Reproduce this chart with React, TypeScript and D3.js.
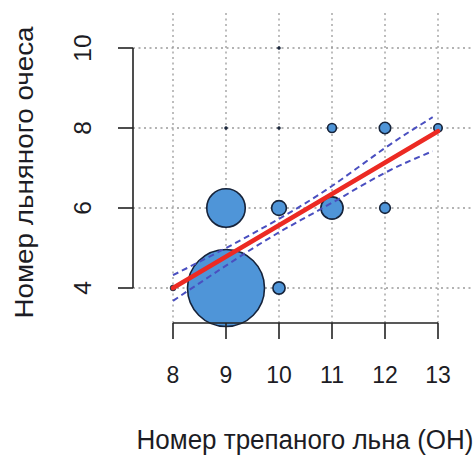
import React from "react";
import * as d3 from "d3";

const xTicks = [8, 9, 10, 11, 12, 13];
const yTicks = [4, 6, 8, 10];

// bubbles: x (scutched flax number), y (tow number), weight (count)
const bubbleX = [9, 9, 11, 10, 10, 12, 12, 11, 13, 8, 9, 10, 10];
const bubbleY = [4, 6, 6, 6, 4, 6, 8, 8, 8, 4, 8, 8, 10];
const bubbleW = [676, 169, 56, 25, 17, 13, 15, 9, 8, 4, 1, 1, 1];

// regression line and confidence band
const fitX = [8, 13];
const fitY = [4.0, 7.92];
const bandX = [8, 9, 10, 11, 12, 12.9];
const bandUpper = [4.32, 5.0, 5.73, 6.55, 7.5, 8.27];
const bandLower = [3.68, 4.56, 5.39, 6.13, 6.88, 7.42];

const W = 474;
const H = 456;

export default function App() {
  const x = d3.scaleLinear().domain([8, 13]).range([173, 438]);
  const y = d3.scaleLinear().domain([4, 10]).range([288, 48]);
  const r = d3.scaleSqrt().domain([0, 676]).range([0, 38.5]);

  const plotLeft = 133;
  const plotRight = 472;
  const plotTop = 13;
  const plotBottom = 323;

  const line = d3
    .line<[number, number]>()
    .x((d) => x(d[0]))
    .y((d) => y(d[1]));
  const bandLine = d3
    .line<[number, number]>()
    .x((d) => x(d[0]))
    .y((d) => y(d[1]))
    .curve(d3.curveNatural);

  const bubbles = bubbleX
    .map((bx, i) => ({ x: bx, y: bubbleY[i], w: bubbleW[i] }))
    .sort((a, b) => b.w - a.w);

  const font = "'Liberation Sans', Arial, sans-serif";
  const textColor = "#1c1c24";

  return (
    <svg
      width={W}
      height={H}
      style={{ position: "absolute", left: 0, top: 0, background: "#fff" }}
    >
      {/* grid */}
      <g stroke="#9a9a9a" strokeWidth={1.3} strokeDasharray="2 3.5">
        {xTicks.map((t) => (
          <line key={"gx" + t} x1={x(t)} x2={x(t)} y1={plotTop} y2={plotBottom} />
        ))}
        {yTicks.map((t) => (
          <line key={"gy" + t} x1={plotLeft} x2={plotRight} y1={y(t)} y2={y(t)} />
        ))}
      </g>

      {/* bubbles */}
      {bubbles.map((b, i) => {
        const rr = r(b.w);
        const tiny = rr < 3.5;
        return (
          <circle
            key={i}
            cx={x(b.x)}
            cy={y(b.y)}
            r={tiny ? Math.max(rr, 1.5) : rr}
            fill={tiny ? "#1d2a3e" : "#4f95d8"}
            stroke="#16233a"
            strokeWidth={tiny ? 0.5 : 1.6}
          />
        );
      })}

      {/* confidence band */}
      <g fill="none" stroke="#4a4fc0" strokeWidth={2} strokeDasharray="6 4">
        <path d={bandLine(bandX.map((bx, i) => [bx, bandUpper[i]]) as any) || ""} />
        <path d={bandLine(bandX.map((bx, i) => [bx, bandLower[i]]) as any) || ""} />
      </g>

      {/* regression line */}
      <path
        d={line(fitX.map((fx, i) => [fx, fitY[i]]) as any) || ""}
        stroke="#ec2a23"
        strokeWidth={4.5}
        fill="none"
        strokeLinecap="round"
      />

      {/* axes */}
      <g stroke="#222" strokeWidth={1.6} fill="none">
        <line x1={x(8)} x2={x(13)} y1={plotBottom} y2={plotBottom} />
        {xTicks.map((t) => (
          <line key={"xt" + t} x1={x(t)} x2={x(t)} y1={plotBottom} y2={plotBottom + 16} />
        ))}
        <line x1={plotLeft} x2={plotLeft} y1={y(4)} y2={y(10)} />
        {yTicks.map((t) => (
          <line key={"yt" + t} x1={plotLeft - 15} x2={plotLeft} y1={y(t)} y2={y(t)} />
        ))}
      </g>

      {xTicks.map((t) => (
        <text
          key={"xl" + t}
          transform={`translate(${x(t)},383) scale(1,1.07)`}
          textAnchor="middle"
          fontFamily={font}
          fontSize={23}
          fill={textColor}
        >
          {t}
        </text>
      ))}
      {yTicks.map((t) => (
        <text
          key={"yl" + t}
          transform={`translate(91,${y(t)}) rotate(-90) scale(1.07,1)`}
          textAnchor="middle"
          fontFamily={font}
          fontSize={23}
          fill={textColor}
        >
          {t}
        </text>
      ))}

      <text
        transform="translate(305,449) scale(1,1.07)"
        textAnchor="middle"
        fontFamily={font}
        fontSize={26}
        fill={textColor}
      >
        Номер трепаного льна (ОН)
      </text>
      <text
        transform="translate(33,172.5) rotate(-90) scale(1.07,1)"
        textAnchor="middle"
        fontFamily={font}
        fontSize={26}
        fill={textColor}
      >
        Номер льняного очеса
      </text>
    </svg>
  );
}
